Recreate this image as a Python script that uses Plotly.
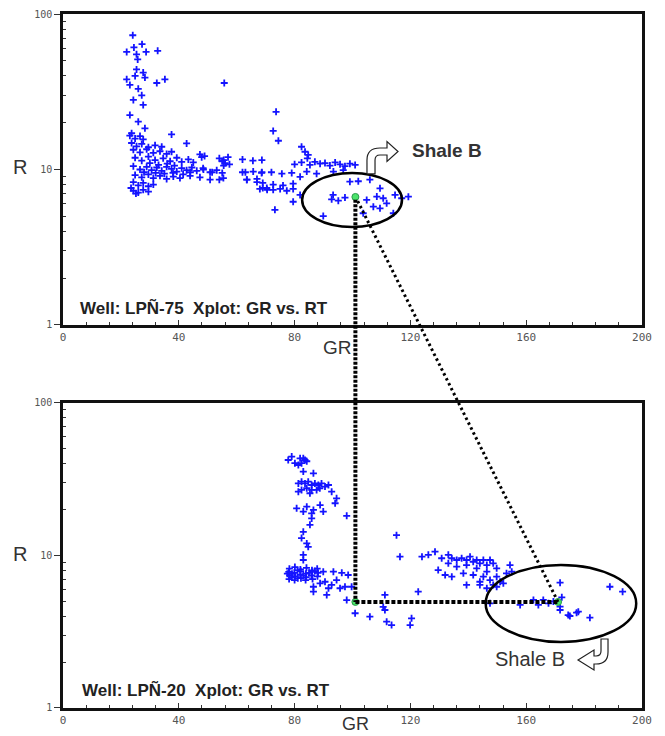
import math
import plotly.graph_objects as go

# ---------------- data ----------------
top_gr = [24.1, 27.3, 24.5, 22, 25.4, 28.7, 32.7, 25.8, 25.4, 27.7, 24.9, 28.3, 22, 23.1, 32.4, 35.2, 55.7,
          26, 27.2, 24.3, 27.7, 23.1, 26, 28.3, 23.7, 37.5, 42.7,
          23.1, 24.9, 26.6, 27.7,
          23.7, 25.4, 27.2, 29.5, 31.8, 34.1,
          24.3, 26.6, 28.9, 31.2, 33.5, 35.8, 37.5,
          24.9, 27.2, 29.5, 31.8, 34.6, 37, 39.3, 41, 43.3, 45,
          24.3, 26.6, 28.9, 30.6, 32.4, 34.1, 35.8, 37.5, 39.3, 41, 42.7, 44.5, 46.2, 48.5, 50.8, 53.1,
          24.9, 27.2, 29.5, 31.2, 33.5, 35.8, 38.1, 40.4, 43.9, 47.3, 50.8, 55.4,
          24.3, 26, 27.7, 29.5, 31.2, 23.5,
          24.3, 26, 27.7, 29.5, 25.2,
          30, 33, 36, 38.5, 28, 32, 35, 38, 41.5, 44,
          47.3, 48.9, 47.9, 54, 55.5, 57, 55, 56, 57.5, 55.5,
          62, 65.6, 68.7, 62, 68.7, 63.5, 67, 69, 70.5, 54, 55, 51.5, 48.4,
          73.6, 72.6, 74.4, 82.4, 83.6, 84.7, 84.4,
          80, 82.4, 85.3, 87, 88.8, 90.5, 92.2, 94, 95.7, 97.4, 99.1, 100.9,
          63, 65.7, 68.6, 72, 75.6, 79,
          63.5, 67, 69, 72.6, 76, 79.5,
          68, 70.4, 72.6, 75, 77.3, 79.5,
          81.9, 84.2, 87.6, 93.4, 96.8,
          81.9, 73.2, 79.5,
          92.8, 95.1, 97.4, 99.1, 102, 106, 109.5, 108.4, 110.6, 104.9, 107.2, 109.5, 111.8, 114.7, 117, 119.3,
          114.1, 103.7, 89.9, 93.3]
top_r = [73, 64, 61, 57, 55, 57, 58, 51, 44, 42, 40, 39, 38, 35, 36, 38, 36,
         33, 30, 28, 26, 22.4, 20.3, 18.4, 17.1, 16.8, 14.7,
         16.5, 15.8, 16.4, 15.6,
         14.8, 14.1, 14.6, 13.9, 14.3, 14.0,
         13.4, 12.9, 13.5, 12.8, 13.1, 12.6, 13.0,
         11.9, 11.4, 12.1, 11.5, 11.8, 11.3, 11.9, 11.2, 11.6, 11.1,
         10.5, 10.0, 10.4, 9.9, 10.3, 9.8, 10.4, 10.1, 9.7, 10.2, 9.9, 10.3, 9.8, 10.0, 9.6, 9.9,
         9.2, 8.9, 9.3, 8.8, 9.1, 8.7, 9.0, 8.8, 9.1, 8.9, 8.6, 8.8,
         8.3, 7.9, 8.2, 7.8, 8.0, 7.6,
         7.3, 7.1, 7.4, 7.2, 7.0,
         11.0, 10.7, 10.9, 10.6, 9.6, 9.5, 9.4, 9.5, 9.3, 9.6,
         12.5, 12.2, 12.0, 11.8, 11.5, 12.0, 11.3, 11.0, 10.8, 10.6,
         11.6, 11.4, 11.5, 9.6, 9.6, 8.6, 8.3, 7.6, 7.4, 8.6, 9.5, 9.6, 10.2,
         23.5, 17.7, 15.3, 14, 13, 12.4, 11.8,
         10.8, 11.1, 10.7, 11.2, 10.9, 11.0, 10.6, 11.1, 10.8, 10.5, 10.9, 10.7,
         9.6, 9.7, 9.5, 9.6, 9.4, 9.5,
         8.6, 8.7, 8.2, 8.0, 7.9, 8.1,
         7.5, 7.6, 7.4, 7.5, 7.3, 7.5,
         8.97, 9.7, 9.4, 9.7, 9.9,
         6.86, 5.5, 6.2,
         6.43, 6.3, 6.6, 8.35, 8.4, 8.6, 7.57, 6.7, 6.53, 6.37, 5.77, 5.63, 6.06, 6.86, 6.53, 6.69,
         5.23, 5.23, 5.02, 6.86]

bot_gr = [77.8, 79, 80.1, 81.3, 82.4, 83.6, 84.2, 83, 81.9, 83, 86.5,
          81.3, 82.4, 83.6, 84.7, 85.9, 87, 88.2, 89.3, 90.5, 91.7, 92.8, 82.4, 84.2, 85.9, 87.6, 88.7, 85.3, 81.3,
          94.5, 94, 88.8, 86.5, 84.2, 80.7, 83, 85.9, 89.9,
          98, 85.9, 85.3, 83, 82.4, 84.2, 84.7, 83, 83,
          78.2, 80.1, 82.0, 84.1, 86.0, 87.8,
          78.0, 79.9, 82.1, 83.9, 86.1, 88.1,
          78.3, 80.2, 81.9, 84.0, 85.8, 87.9,
          78.1, 80.0, 82.2, 83.8, 86.2,
          79.1, 81.0, 83.0, 85.0, 87.0, 79.0, 81.1, 77.5,
          89.9, 93.4, 96.3, 98.5,
          86.5, 88.8, 90.5, 92.8, 91.7, 94.5, 95.7, 97.4, 99.7, 86.5, 91.1, 98,
          100.9, 106, 111.2, 111.8, 113.5, 115.2, 116.4, 124, 126.2, 122.7, 120.4, 119.9, 111.2, 110.6,
          128.5, 130.8, 133.1, 134.3, 136, 137.7, 139.4, 140.6, 141.7, 142.9, 144, 145.2, 146.4, 147.5, 148.6, 149.8,
          133.1, 136, 139.4, 142.9, 146.4, 129.6, 132, 134.3, 138.3, 141.7, 145.2, 147.5, 148.6, 149.8, 144, 146.4,
          154.4, 155, 153.2, 149.8, 151, 152.1, 139.4, 144,
          171.7, 188.9, 193.3,
          147.5, 157.9, 162.5, 164.2, 165.9, 167.7, 169.4, 172.3, 171.7,
          171.7, 175.1, 178, 182, 174.5, 177.4]
bot_r = [42.3, 44.5, 40.3, 39.2, 40.3, 42.3, 41.5, 43.4, 43.4, 35.5, 34.6,
         29.7, 30.5, 29.7, 30.5, 29, 29.7, 29, 29.7, 28.3, 29, 26.2, 26.9, 27.6, 26.9, 26.9, 27.6, 25.6, 26.2,
         23.7, 22, 21.4, 19.9, 20.9, 20.4, 19.4, 18.9, 19.4,
         18.2, 17.5, 15.9, 14.3, 13, 12, 11.4, 10.1, 9.34,
         8.2, 8.4, 8.1, 8.3, 8.0, 8.2,
         7.8, 7.7, 7.9, 7.6, 7.8, 7.7,
         7.4, 7.3, 7.5, 7.2, 7.4, 7.3,
         7.0, 6.9, 7.1, 6.9, 7.0,
         7.6, 8.0, 7.4, 7.7, 7.9, 7.2, 7.1, 7.6,
         7.83, 7.83, 7.7, 7.45,
         6.24, 6.57, 6.73, 6.41, 6.1, 6.9, 6.1, 6.24, 6.24, 5.79, 5.51, 5.1,
         4.18, 3.97, 4.39, 3.68, 3.5, 13.6, 9.82, 9.82, 10.1, 5.79, 3.87, 3.5, 5.51, 4.6,
         10.6, 9.59, 10.1, 9.59, 9.34, 9.59, 9.34, 9.82, 9.1, 9.34, 8.89, 9.34, 8.66, 9.34, 8.89, 8.24,
         8.89, 8.45, 8.66, 8.24, 7.83, 8.03, 7.45, 7.26, 7.64, 7.45, 7.26, 6.9, 6.41, 6.24, 6.73, 6.1,
         8.66, 7.83, 7.64, 7.26, 6.73, 6.57, 6.41, 6.41,
         6.63, 6.24, 5.79,
         4.86, 4.74, 5.11, 4.74, 5.11, 4.86, 5.0, 5.32, 4.62,
         4.39, 4.01, 4.28, 3.91, 4.07, 4.22]

top_green = (101, 6.66)
bot_green_gr = [101, 171]
bot_green_r = [4.96, 4.96]

x_ticks = [0, 40, 80, 120, 160, 200]
y_ticks = [1, 10, 100]
y_minor = [2, 3, 4, 5, 6, 7, 8, 9, 20, 30, 40, 50, 60, 70, 80, 90]

top_ellipse = dict(gr=(82.6, 117.1), r=(4.27, 9.5))
bot_ellipse = dict(gr=(146, 198), r=(2.71, 8.67))

# ---------------- geometry ----------------
# the page body has an 8px margin; the figure is sized so the plot areas sit at
# the same window positions as in the reference
BODY = 8
W, H = 665 - BODY, 736 - BODY
PL, PR, PT, PB = 63, 642, 14, 708          # plot-area edges in window pixels
ML, MT = PL - BODY, PT - BODY
MR, MB = (BODY + W) - PR, (BODY + H) - PB
PW, PH = PR - PL, PB - PT
TOP_DOM = [0.5519, 1.0]
BOT_DOM = [0.0, 0.4395]


def gx(gr):
    return gr / 200.0


def gy(r, dom):
    return dom[0] + math.log10(r) / 2.0 * (dom[1] - dom[0])


def ppx(px):
    return (px - PL) / PW


def ppy(py):
    return (PB - py) / PH


fig = go.Figure()

mk = dict(symbol="cross-thin", size=5, color="#1414ff", line=dict(width=1.8, color="#1414ff"))
fig.add_trace(go.Scatter(x=top_gr, y=top_r, mode="markers", marker=mk, xaxis="x", yaxis="y",
                         showlegend=False, hoverinfo="x+y"))
fig.add_trace(go.Scatter(x=bot_gr, y=bot_r, mode="markers", marker=mk, xaxis="x2", yaxis="y2",
                         showlegend=False, hoverinfo="x+y"))

gm = dict(symbol="circle", size=7, color="#4be36a", line=dict(width=1, color="#2a9a4a"))
fig.add_trace(go.Scatter(x=[top_green[0]], y=[top_green[1]], mode="markers", marker=gm,
                         xaxis="x", yaxis="y", showlegend=False))
fig.add_trace(go.Scatter(x=bot_green_gr, y=bot_green_r, mode="markers", marker=gm,
                         xaxis="x2", yaxis="y2", showlegend=False))

shapes = []
for e, dom in ((top_ellipse, TOP_DOM), (bot_ellipse, BOT_DOM)):
    shapes.append(dict(type="circle", xref="paper", yref="paper",
                       x0=gx(e["gr"][0]), x1=gx(e["gr"][1]),
                       y0=gy(e["r"][0], dom), y1=gy(e["r"][1], dom),
                       line=dict(color="black", width=2.5)))

tgx, tgy = gx(top_green[0]), gy(top_green[1], TOP_DOM)
b1x, b1y = gx(bot_green_gr[0]), gy(bot_green_r[0], BOT_DOM)
b2x, b2y = gx(bot_green_gr[1]), gy(bot_green_r[1], BOT_DOM)
shapes.append(dict(type="line", xref="paper", yref="paper", x0=tgx, y0=tgy - 0.004, x1=b1x, y1=b1y,
                   line=dict(color="black", width=4, dash="3px,1.5px")))
shapes.append(dict(type="line", xref="paper", yref="paper", x0=b1x, y0=b1y, x1=b2x, y1=b2y,
                   line=dict(color="black", width=4, dash="4px,2px")))
shapes.append(dict(type="line", xref="paper", yref="paper", x0=tgx + 0.004, y0=tgy - 0.006, x1=b2x, y1=b2y,
                   line=dict(color="black", width=3, dash="2.5px,3px")))


def path(pts):
    s = ""
    for cmd, coords in pts:
        s += cmd + " " + " ".join(f"{ppx(coords[i]):.4f},{ppy(coords[i+1]):.4f}" for i in range(0, len(coords), 2)) + " "
    return s + "Z"


arrow_top = path([("M", (367, 174)), ("L", (367, 160)), ("Q", (367, 148, 380, 148)), ("L", (387, 148)),
                  ("L", (387, 141.5)), ("L", (398, 151.5)), ("L", (387, 161.5)), ("L", (387, 155)),
                  ("L", (380, 155)), ("Q", (375, 155, 375, 160)), ("L", (375, 174))])
arrow_bot = path([("M", (608, 639)), ("L", (608, 652)), ("Q", (608, 664, 596, 664)), ("L", (594, 664)),
                  ("L", (594, 670)), ("L", (578, 660)), ("L", (594, 650)), ("L", (594, 656)),
                  ("L", (596, 656)), ("Q", (601, 656, 601, 651)), ("L", (601, 639))])
for p in (arrow_top, arrow_bot):
    shapes.append(dict(type="path", xref="paper", yref="paper", path=p, fillcolor="white",
                       line=dict(color="#222", width=1.2)))

xa = dict(range=[0, 200], tickvals=x_ticks, ticktext=[str(v) for v in x_ticks],
          tickfont=dict(family="DejaVu Sans Mono", size=11, color="#555"),
          showline=True, linecolor="#111", linewidth=2.5, mirror=True, ticks="inside", ticklen=5,
          tickcolor="#333", showgrid=False, zeroline=False, domain=[0, 1], automargin=False,
          minor=dict(dtick=8, ticks="inside", ticklen=3, tickcolor="#333", showgrid=False))
ya = dict(type="log", range=[0, 2], tickvals=y_ticks, ticktext=[str(v) for v in y_ticks],
          tickfont=dict(family="DejaVu Sans Mono", size=10, color="#555"),
          showline=True, linecolor="#111", linewidth=2.5, mirror=True, ticks="outside", ticklen=6,
          tickcolor="#333", showgrid=False, zeroline=False, automargin=False,
          minor=dict(tickmode="array", tickvals=y_minor, ticks="inside", ticklen=3, tickcolor="#333",
                     showgrid=False))

fig.update_layout(
    template="none",
    width=W, height=H,
    margin=dict(l=ML, r=MR, t=MT, b=MB, autoexpand=False),
    paper_bgcolor="white", plot_bgcolor="white",
    xaxis=dict(xa, anchor="y"),
    yaxis=dict(ya, domain=TOP_DOM, anchor="x"),
    xaxis2=dict(xa, anchor="y2"),
    yaxis2=dict(ya, domain=BOT_DOM, anchor="x2"),
    shapes=shapes,
    showlegend=False,
)


def note(text, px, py, font, xanchor="center"):
    return dict(text=text, x=ppx(px), y=ppy(py), xref="paper", yref="paper", showarrow=False,
                xanchor=xanchor, yanchor="middle", font=font)


lab = dict(family="Liberation Sans, Arial", size=20, color="#333")
well = dict(family="Liberation Sans, Arial", size=17, color="#222")
ann = [
    note("R", 20, 167, lab),
    note("R", 20, 554, lab),
    note("GR", 337, 347, dict(lab, size=19)),
    note("GR", 355, 724, dict(lab, size=18)),
    note("<b>Well: LPÑ-75  Xplot: GR vs. RT</b>", 78, 308, well, "left"),
    note("<b>Well: LPÑ-20  Xplot: GR vs. RT</b>", 80, 690, well, "left"),
    note("<b>Shale B</b>", 447, 150, dict(family="Liberation Sans, Arial", size=19, color="#333")),
    note("Shale B", 530, 659, dict(family="Liberation Sans, Arial", size=20, color="#333")),
]
fig.update_layout(annotations=ann)

fig.write_html("out.html")
